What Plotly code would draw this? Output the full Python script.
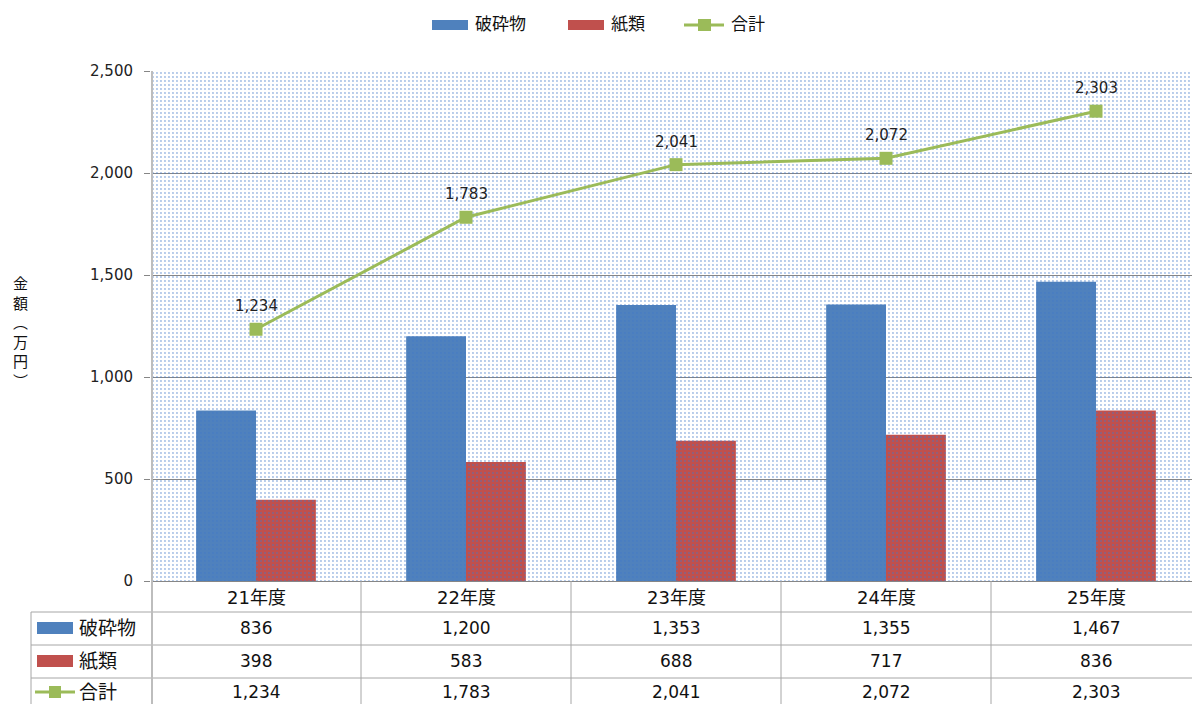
import plotly.graph_objects as go

# ---- data ----
years = ["21年度", "22年度", "23年度", "24年度", "25年度"]
hasai = [836, 1200, 1353, 1355, 1467]      # 破砕物
shirui = [398, 583, 688, 717, 836]         # 紙類
goukei = [1234, 1783, 2041, 2072, 2303]    # 合計
series_names = ["破砕物", "紙類", "合計"]

BLUE = "#4F81BD"
RED = "#C0504D"
GREEN = "#9BBB59"
GRID = "#868686"
TABLE_LINE = "#A6A6A6"
FONT = "DejaVu Sans, Noto Sans CJK JP, sans-serif"

# ---- geometry (pixels) ----
W, H = 1192, 704
L, R, T, B = 151, 0, 71, 123
PW, PH = W - L - R, H - T - B
Y_MAX = 2500
X0 = -0.5
X1 = X0 + PW / 210.0          # one category per 210 px, last one runs past the edge
idx = list(range(len(years)))


def px(xpix):
    return (xpix - L) / PW


def py(ypix):
    return (H - B - ypix) / PH


def dx(v):
    return (v - X0) / (X1 - X0)


def text_at(x, y, text, size, xanchor="center", color="#111111"):
    return dict(x=x, y=y, xref="paper", yref="paper", text=text, showarrow=False,
                xanchor=xanchor, yanchor="middle",
                font=dict(family=FONT, size=size, color=color))


fig = go.Figure()

# dotted plot-area fill
fig.add_trace(go.Scatter(
    x=[X0, X1, X1, X0, X0], y=[0, 0, Y_MAX, Y_MAX, 0],
    mode="none", fill="toself", fillcolor="rgba(0,0,0,0)",
    fillpattern=dict(shape=".", fgcolor="#3F78C8", bgcolor="rgba(255,255,255,0)",
                     size=4, solidity=0.18),
    hoverinfo="skip", showlegend=False,
))

fig.add_trace(go.Bar(x=idx, y=hasai, name=series_names[0], marker=dict(color=BLUE, line=dict(width=0)),
                     showlegend=False))
fig.add_trace(go.Bar(x=idx, y=shirui, name=series_names[1], marker=dict(color=RED, line=dict(width=0)),
                     showlegend=False))
fig.add_trace(go.Scatter(x=idx, y=goukei, name=series_names[2], mode="lines+markers",
                         line=dict(color=GREEN, width=3),
                         marker=dict(symbol="square", size=13, color=GREEN),
                         showlegend=False))

annotations = []
shapes = []

# value labels on the total line
for i, v in zip(idx, goukei):
    annotations.append(dict(x=i, y=v, xref="x", yref="y", text=f"{v:,}", showarrow=False,
                            xanchor="center", yanchor="middle",
                            yshift=23, font=dict(family=FONT, size=15, color="#222222")))

# ---- legend (top) ----
leg_y = 25
shapes.append(dict(type="rect", xref="paper", yref="paper", x0=px(432), x1=px(468),
                   y0=py(leg_y + 5), y1=py(leg_y - 5), fillcolor=BLUE, line=dict(width=0)))
shapes.append(dict(type="rect", xref="paper", yref="paper", x0=px(568), x1=px(604),
                   y0=py(leg_y + 5), y1=py(leg_y - 5), fillcolor=RED, line=dict(width=0)))
shapes.append(dict(type="line", xref="paper", yref="paper", x0=px(684), x1=px(724),
                   y0=py(leg_y), y1=py(leg_y), line=dict(color=GREEN, width=3)))
shapes.append(dict(type="rect", xref="paper", yref="paper", x0=px(698), x1=px(711),
                   y0=py(leg_y + 6), y1=py(leg_y - 6), fillcolor=GREEN, line=dict(width=0)))
for name, xl in zip(series_names, [473, 609, 729]):
    annotations.append(text_at(px(xl), py(leg_y - 1), name, 17, xanchor="left"))

# ---- y-axis title (vertical) ----
annotations.append(text_at(px(20), py(333), "金<br>額<br>︵<br>万<br>円<br>︶", 15))

# ---- data table below the axis ----
row_lines = [612, 645, 678]
row_centers = [628, 661, 692]
header_center = 597
table_left = 31

for yl in row_lines:
    shapes.append(dict(type="line", xref="paper", yref="paper", x0=px(table_left), x1=1,
                       y0=py(yl), y1=py(yl), line=dict(color=TABLE_LINE, width=1)))
shapes.append(dict(type="line", xref="paper", yref="paper", x0=px(table_left), x1=px(table_left),
                   y0=py(row_lines[0]), y1=py(H), line=dict(color=TABLE_LINE, width=1)))
for i in idx[:-1]:
    xb = dx(i + 0.5)
    shapes.append(dict(type="line", xref="paper", yref="paper", x0=xb, x1=xb,
                       y0=0, y1=py(H), line=dict(color=TABLE_LINE, width=1)))
# axis line continues through the table
shapes.append(dict(type="line", xref="paper", yref="paper", x0=px(152), x1=px(152),
                   y0=1, y1=py(H), line=dict(color="#BDBDBD", width=2)))

for i, label in zip(idx, years):
    annotations.append(text_at(dx(i), py(header_center), label, 18))

table_rows = [hasai, shirui, goukei]
for r, (vals, yc) in enumerate(zip(table_rows, row_centers)):
    for i, v in zip(idx, vals):
        annotations.append(text_at(dx(i), py(yc), f"{v:,}", 17))
    annotations.append(text_at(px(77), py(yc), series_names[r], 19, xanchor="left"))

# row keys
shapes.append(dict(type="rect", xref="paper", yref="paper", x0=px(37), x1=px(73),
                   y0=py(row_centers[0] + 6), y1=py(row_centers[0] - 6), fillcolor=BLUE, line=dict(width=0)))
shapes.append(dict(type="rect", xref="paper", yref="paper", x0=px(37), x1=px(73),
                   y0=py(row_centers[1] + 6), y1=py(row_centers[1] - 6), fillcolor=RED, line=dict(width=0)))
shapes.append(dict(type="line", xref="paper", yref="paper", x0=px(35), x1=px(75),
                   y0=py(row_centers[2]), y1=py(row_centers[2]), line=dict(color=GREEN, width=3)))
shapes.append(dict(type="rect", xref="paper", yref="paper", x0=px(49), x1=px(61),
                   y0=py(row_centers[2] + 6), y1=py(row_centers[2] - 6), fillcolor=GREEN, line=dict(width=0)))

fig.update_layout(
    width=W, height=H,
    margin=dict(l=L, r=R, t=T, b=B, pad=0),
    paper_bgcolor="white", plot_bgcolor="white",
    barmode="group", bargap=0.43, bargroupgap=0,
    showlegend=False,
    font=dict(family=FONT, size=14, color="#222222"),
    annotations=annotations, shapes=shapes,
)
fig.update_xaxes(range=[X0, X1], showticklabels=False, showgrid=False, zeroline=False,
                 showline=True, linecolor=GRID, linewidth=1, ticks="", fixedrange=True)
fig.update_yaxes(range=[0, Y_MAX], dtick=500, tickformat=",", showgrid=True, gridcolor=GRID,
                 gridwidth=1, zeroline=False, showline=False, ticks="outside", ticklen=6,
                 tickcolor=GRID, tickfont=dict(family=FONT, size=15, color="#222222"),
                 ticklabelstandoff=8, fixedrange=True)

fig.write_html("out.html")
